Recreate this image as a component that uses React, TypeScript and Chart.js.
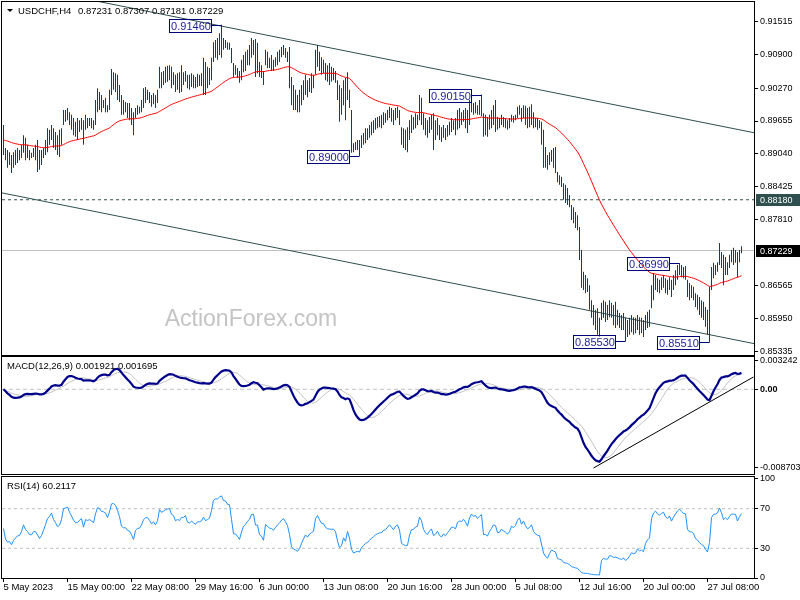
import React, { useEffect, useRef } from "react";
import { Chart, registerables } from "chart.js";

Chart.register(...registerables);
Chart.defaults.font.family = "'Liberation Sans', Arial, sans-serif";
Chart.defaults.font.size = 10;
Chart.defaults.color = "#000";

// ---- H4 bars (one per 4h), high / low ----
const highs: number[] = [
  0.8958, 0.8915, 0.8911, 0.8907, 0.8902, 0.8907, 0.8911, 0.8915, 0.8911, 0.8921,
  0.8939, 0.8934, 0.8921, 0.8911, 0.8906, 0.8915, 0.8921, 0.8930, 0.8911, 0.8911,
  0.8915, 0.8930, 0.8952, 0.8949, 0.8958, 0.8952, 0.8945, 0.8939, 0.8949, 0.8952,
  0.8986, 0.8986, 0.8990, 0.8982, 0.8977, 0.8971, 0.8964, 0.8971, 0.8967, 0.8971,
  0.8967, 0.8977, 0.8971, 0.8971, 0.8971, 0.8967, 0.9005, 0.9027, 0.9020, 0.9014,
  0.9005, 0.9009, 0.8995, 0.9024, 0.9063, 0.9057, 0.9055, 0.9052, 0.9033, 0.9014,
  0.9005, 0.9001, 0.8999, 0.8999, 0.8990, 0.8982, 0.8990, 0.8995, 0.8992, 0.9005,
  0.9027, 0.9029, 0.9024, 0.9020, 0.9014, 0.9018, 0.9014, 0.9024, 0.9067, 0.9057,
  0.9059, 0.9067, 0.9069, 0.9070, 0.9067, 0.9057, 0.9052, 0.9055, 0.9057, 0.9070,
  0.9057, 0.9059, 0.9052, 0.9052, 0.9055, 0.9052, 0.9048, 0.9054, 0.9052, 0.9055,
  0.9084, 0.9076, 0.9067, 0.9065, 0.9084, 0.9113, 0.9117, 0.9121, 0.9130, 0.9146,
  0.9121, 0.9117, 0.9113, 0.9112, 0.9102, 0.9074, 0.9070, 0.9065, 0.9059, 0.9080,
  0.9089, 0.9095, 0.9099, 0.9108, 0.9121, 0.9117, 0.9119, 0.9112, 0.9076, 0.9070,
  0.9059, 0.9099, 0.9095, 0.9084, 0.9089, 0.9080, 0.9085, 0.9095, 0.9099, 0.9104,
  0.9108, 0.9102, 0.9095, 0.9104, 0.9048, 0.9033, 0.9024, 0.9014, 0.9024, 0.9033,
  0.9042, 0.9052, 0.9042, 0.9046, 0.9055, 0.9052, 0.9099, 0.9108, 0.9095, 0.9085,
  0.9080, 0.9074, 0.9070, 0.9074, 0.9067, 0.9065, 0.9059, 0.9042, 0.9033, 0.9027,
  0.9042, 0.9046, 0.9057, 0.9024, 0.8986, 0.8924, 0.8926, 0.8930, 0.8930, 0.8939,
  0.8943, 0.8952, 0.8952, 0.8958, 0.8964, 0.8967, 0.8971, 0.8973, 0.8975, 0.8977,
  0.8982, 0.8980, 0.8986, 0.8992, 0.8990, 0.8986, 0.8990, 0.8992, 0.8986, 0.8954,
  0.8952, 0.8949, 0.8954, 0.8967, 0.8977, 0.8973, 0.8980, 0.8977, 0.9014, 0.9009,
  0.8980, 0.8971, 0.8967, 0.8973, 0.8977, 0.8980, 0.8967, 0.8971, 0.8958, 0.8954,
  0.8958, 0.8952, 0.8958, 0.8964, 0.8971, 0.8967, 0.8971, 0.8986, 0.8990, 0.8982,
  0.8986, 0.8990, 0.8986, 0.9005, 0.9001, 0.8999, 0.9001, 0.8995, 0.9005, 0.9015,
  0.8980, 0.8977, 0.8973, 0.8977, 0.8986, 0.8995, 0.9005, 0.8973, 0.8971, 0.8977,
  0.8973, 0.8971, 0.8967, 0.8971, 0.8977, 0.8975, 0.8977, 0.8992, 0.8995, 0.8990,
  0.8995, 0.8994, 0.8990, 0.8992, 0.8997, 0.8982, 0.8971, 0.8971, 0.8967, 0.8964,
  0.8949, 0.8917, 0.8902, 0.8907, 0.8911, 0.8915, 0.8917, 0.8870, 0.8864, 0.8861,
  0.8849, 0.8846, 0.8840, 0.8827, 0.8808, 0.8804, 0.8795, 0.8789, 0.8767, 0.8724,
  0.8683, 0.8677, 0.8671, 0.8658, 0.8630, 0.8621, 0.8612, 0.8615, 0.8597, 0.8625,
  0.8630, 0.8627, 0.8621, 0.8630, 0.8625, 0.8621, 0.8627, 0.8612, 0.8606, 0.8602,
  0.8606, 0.8597, 0.8593, 0.8597, 0.8602, 0.8598, 0.8597, 0.8602, 0.8598, 0.8597,
  0.8593, 0.8602, 0.8608, 0.8612, 0.8658, 0.8681, 0.8677, 0.8671, 0.8668, 0.8673,
  0.8677, 0.8671, 0.8668, 0.8673, 0.8668, 0.8677, 0.8686, 0.8696, 0.8699, 0.8696,
  0.8692, 0.8694, 0.8668, 0.8662, 0.8658, 0.8655, 0.8643, 0.8640, 0.8636, 0.8630,
  0.8627, 0.8617, 0.8612, 0.8655, 0.8692, 0.8700, 0.8696, 0.8701, 0.8737, 0.8720,
  0.8715, 0.8711, 0.8701, 0.8715, 0.8724, 0.8728, 0.8724, 0.8720, 0.8724, 0.8731,
];

const lows: number[] = [
  0.8902, 0.8892, 0.8878, 0.8883, 0.8868, 0.8878, 0.8883, 0.8887, 0.8892, 0.8896,
  0.8906, 0.8892, 0.8896, 0.8892, 0.8896, 0.8898, 0.8892, 0.8870, 0.8874, 0.8883,
  0.8896, 0.8902, 0.8907, 0.8921, 0.8930, 0.8915, 0.8911, 0.8902, 0.8898, 0.8921,
  0.8958, 0.8964, 0.8967, 0.8958, 0.8949, 0.8939, 0.8936, 0.8930, 0.8945, 0.8949,
  0.8921, 0.8949, 0.8952, 0.8956, 0.8952, 0.8949, 0.8958, 0.8982, 0.8986, 0.8982,
  0.8990, 0.8982, 0.8982, 0.8986, 0.9014, 0.9024, 0.9020, 0.9005, 0.9001, 0.8977,
  0.8977, 0.8982, 0.8971, 0.8967, 0.8958, 0.8939, 0.8971, 0.8977, 0.8980, 0.8982,
  0.8990, 0.8999, 0.9005, 0.8999, 0.8992, 0.8997, 0.8990, 0.8999, 0.9027, 0.9027,
  0.9033, 0.9037, 0.9039, 0.9042, 0.9027, 0.9033, 0.9020, 0.9024, 0.9018, 0.9020,
  0.9033, 0.9039, 0.9027, 0.9024, 0.9029, 0.9027, 0.9027, 0.9029, 0.9031, 0.9031,
  0.9014, 0.9014, 0.9027, 0.9033, 0.9042, 0.9076, 0.9084, 0.9080, 0.9089, 0.9084,
  0.9099, 0.9102, 0.9099, 0.9099, 0.9074, 0.9048, 0.9052, 0.9046, 0.9037, 0.9042,
  0.9057, 0.9059, 0.9070, 0.9070, 0.9084, 0.9089, 0.9048, 0.9055, 0.9048, 0.9046,
  0.9033, 0.9070, 0.9065, 0.9065, 0.9059, 0.9059, 0.9067, 0.9070, 0.9076, 0.9085,
  0.9089, 0.9084, 0.9076, 0.9027, 0.8995, 0.8986, 0.8986, 0.8982, 0.8982, 0.8995,
  0.9005, 0.9014, 0.9010, 0.9020, 0.9018, 0.9027, 0.9052, 0.9067, 0.9059, 0.9052,
  0.9055, 0.9042, 0.9039, 0.9033, 0.9039, 0.9042, 0.9037, 0.9005, 0.8964, 0.8977,
  0.8995, 0.8967, 0.9005, 0.8990, 0.8906, 0.8907, 0.8911, 0.8911, 0.8900, 0.8915,
  0.8921, 0.8924, 0.8930, 0.8934, 0.8939, 0.8943, 0.8949, 0.8952, 0.8954, 0.8952,
  0.8958, 0.8962, 0.8967, 0.8971, 0.8964, 0.8958, 0.8967, 0.8971, 0.8958, 0.8921,
  0.8915, 0.8911, 0.8907, 0.8930, 0.8943, 0.8949, 0.8952, 0.8958, 0.8967, 0.8958,
  0.8949, 0.8939, 0.8934, 0.8943, 0.8949, 0.8911, 0.8930, 0.8939, 0.8930, 0.8926,
  0.8934, 0.8930, 0.8936, 0.8939, 0.8945, 0.8949, 0.8939, 0.8949, 0.8952, 0.8958,
  0.8964, 0.8952, 0.8943, 0.8958, 0.8982, 0.8977, 0.8980, 0.8977, 0.8977, 0.8975,
  0.8936, 0.8939, 0.8936, 0.8949, 0.8952, 0.8958, 0.8945, 0.8949, 0.8952, 0.8958,
  0.8954, 0.8952, 0.8949, 0.8952, 0.8964, 0.8962, 0.8967, 0.8971, 0.8977, 0.8964,
  0.8971, 0.8958, 0.8952, 0.8954, 0.8958, 0.8952, 0.8954, 0.8949, 0.8952, 0.8921,
  0.8878, 0.8878, 0.8874, 0.8883, 0.8889, 0.8878, 0.8868, 0.8851, 0.8846, 0.8842,
  0.8818, 0.8812, 0.8808, 0.8804, 0.8780, 0.8774, 0.8765, 0.8761, 0.8705, 0.8653,
  0.8649, 0.8643, 0.8645, 0.8612, 0.8597, 0.8583, 0.8574, 0.8565, 0.8562, 0.8593,
  0.8597, 0.8589, 0.8593, 0.8598, 0.8597, 0.8583, 0.8578, 0.8583, 0.8578, 0.8574,
  0.8574, 0.8553, 0.8561, 0.8565, 0.8570, 0.8565, 0.8568, 0.8574, 0.8565, 0.8568,
  0.8561, 0.8574, 0.8578, 0.8580, 0.8615, 0.8630, 0.8649, 0.8645, 0.8643, 0.8649,
  0.8653, 0.8643, 0.8640, 0.8649, 0.8636, 0.8649, 0.8658, 0.8668, 0.8677, 0.8673,
  0.8671, 0.8668, 0.8636, 0.8630, 0.8634, 0.8630, 0.8617, 0.8612, 0.8602, 0.8597,
  0.8593, 0.8580, 0.8565, 0.8551, 0.8649, 0.8671, 0.8677, 0.8683, 0.8696, 0.8690,
  0.8658, 0.8677, 0.8677, 0.8690, 0.8701, 0.8696, 0.8700, 0.8673, 0.8701, 0.8718,
];

// ---- axes ----
const timeTickBars = [0, 32, 64, 96, 128, 160, 192, 224, 256, 288, 320, 352];
const timeLabels = [
  "5 May 2023", "15 May 00:00", "22 May 08:00", "29 May 16:00", "6 Jun 00:00", "13 Jun 08:00",
  "20 Jun 16:00", "28 Jun 00:00", "5 Jul 08:00", "12 Jul 16:00", "20 Jul 00:00", "27 Jul 08:00",
];
const priceTicks = [0.91515, 0.909, 0.9027, 0.89655, 0.8904, 0.88425, 0.8781, 0.86565, 0.8595, 0.85335];
const macdTicks = [0.003242, 0, -0.008703];
const rsiTicks = [100, 70, 30, 0];

// ---- marked swing points ----
const markLabels = ["0.91460", "0.89000", "0.90150", "0.85530", "0.86990", "0.85510"];
const markBars = [109, 178, 239, 311, 338, 353];
const markPrices = [0.9146, 0.89, 0.9015, 0.8553, 0.8699, 0.8551];

// ---- drawn lines / levels ----
const upperChannel = [{ x: 44, y: 0.9192 }, { x: 376, y: 0.8943 }];
const lowerChannel = [{ x: -1, y: 0.8831 }, { x: 376, y: 0.8548 }];
const macdTrend = [{ x: 295, y: -0.00874 }, { x: 375, y: 0.00137 }];
const supportLevel = 0.8818;
const lastPrice = 0.87229;

const titleSymbol = "USDCHF,H4";
const titleQuote = "0.87231 0.87307 0.87181 0.87229";
const macdTitle = "MACD(12,26,9) 0.001921 0.001695";
const rsiTitle = "RSI(14) 60.2117";

// ---- view ----
const X_MIN = -0.75;
const X_MAX = 375.25;
const PRICE_MAX = 0.918839;
const PRICE_MIN = 0.852722;
const MACD_MAX = 0.003586;
const MACD_MIN = -0.009403;
const RSI_MAX = 102;
const RSI_MIN = 0;
const FONT = "'Liberation Sans', Arial, sans-serif";

// ---- indicators computed from the bars ----
const medians = highs.map((h, i) => (h + lows[i]) / 2);
function ema(src: number[], n: number): number[] {
  const k = 2 / (n + 1);
  const out: number[] = [];
  let e = src[0];
  src.forEach((v, i) => {
    e = i === 0 ? v : e + k * (v - e);
    out.push(e);
  });
  return out;
}
function sma(src: number[], n: number): number[] {
  return src.map((_, i) => {
    const s = src.slice(Math.max(0, i - n + 1), i + 1);
    return s.reduce((a, b) => a + b, 0) / s.length;
  });
}
function rsiOf(src: number[], n: number): number[] {
  const ch = src.slice(1).map((v, i) => v - src[i]);
  const seed = ch.slice(0, n).reduce((a, b) => a + Math.abs(b), 0) / n / 2;
  let ag = seed;
  let al = seed;
  const out = [50];
  ch.forEach((c) => {
    ag = (ag * (n - 1) + Math.max(c, 0)) / n;
    al = (al * (n - 1) + Math.max(-c, 0)) / n;
    out.push(100 - 100 / (1 + ag / al));
  });
  return out;
}
const ma55 = ema(medians, 55);
const ema12 = ema(medians, 12);
const ema26 = ema(medians, 26);
const macdMain = ema12.map((v, i) => v - ema26[i]);
const macdSignal = sma(macdMain, 9);
const rsi14 = rsiOf(medians, 14);

const toXY = (arr: number[]) => arr.map((v, i) => ({ x: i, y: v }));
const hLine = (v: number) => [{ x: X_MIN, y: v }, { x: X_MAX, y: v }];

const fixRightAxis = (s: any) => {
  s.width = 46;
  s.paddingTop = 0;
  s.paddingBottom = 0;
};

const framePlugin = {
  id: "frame",
  afterDraw(chart: any) {
    const { ctx, chartArea: a } = chart;
    ctx.save();
    ctx.strokeStyle = "#000";
    ctx.lineWidth = 1;
    ctx.strokeRect(a.left - 0.5, a.top - 0.5, a.right - a.left + 1, a.bottom - a.top + 1);
    ctx.restore();
  },
};

const hiddenX = { type: "linear", min: X_MIN, max: X_MAX, offset: false, display: false };

const yAxis = (min: number, max: number, values: number[], fmt: (v: number) => string, bold?: number) => ({
  type: "linear",
  position: "right",
  min,
  max,
  afterBuildTicks: (s: any) => {
    s.ticks = values.map((v) => ({ value: v }));
  },
  afterFit: fixRightAxis,
  ticks: {
    autoSkip: false,
    padding: 2,
    color: "#000",
    font: (c: any) => ({ family: FONT, size: 9, weight: bold !== undefined && c.tick && c.tick.value === bold ? "bold" : "normal" }),
    callback: (v: any) => fmt(Number(v)),
  },
  grid: { drawOnChartArea: false, drawTicks: true, tickLength: 4, color: "#000" },
  border: { display: false },
});

const mainOverlay = {
  id: "mainOverlay",
  beforeDatasetsDraw(chart: any) {
    const { ctx } = chart;
    ctx.save();
    ctx.font = `23px ${FONT}`;
    ctx.fillStyle = "#c4c4c4";
    ctx.textAlign = "center";
    ctx.textBaseline = "middle";
    ctx.fillText("ActionForex.com", 251, 320);
    ctx.restore();
  },
  afterDatasetsDraw(chart: any) {
    const { ctx, scales } = chart;
    const x = scales.x;
    const y = scales.y;
    ctx.save();
    ctx.font = `11px ${FONT}`;
    ctx.lineWidth = 1;
    markLabels.forEach((label, k) => {
      const ax = Math.floor(x.getPixelForValue(markBars[k]));
      const ay = Math.round(y.getPixelForValue(markPrices[k]));
      const w = 42;
      const h = 13;
      const right = ax - 10;
      const left = right - w;
      const top = ay - 6;
      ctx.strokeStyle = "#00007f";
      ctx.strokeRect(left + 0.5, top + 0.5, w, h);
      ctx.beginPath();
      ctx.moveTo(right + 0.5, ay + 0.5);
      ctx.lineTo(ax + 0.5, ay + 0.5);
      ctx.stroke();
      ctx.fillStyle = "#1c1c9c";
      ctx.textAlign = "center";
      ctx.textBaseline = "middle";
      ctx.fillText(label, left + w / 2 + 1, top + h / 2 + 1);
    });
    ctx.restore();
  },
  afterDraw(chart: any) {
    const { ctx, scales } = chart;
    const y = scales.y;
    ctx.save();
    // title
    ctx.fillStyle = "#000";
    ctx.beginPath();
    ctx.moveTo(7, 9);
    ctx.lineTo(13, 9);
    ctx.lineTo(10, 12);
    ctx.closePath();
    ctx.fill();
    ctx.font = `9.5px ${FONT}`;
    ctx.textBaseline = "middle";
    ctx.textAlign = "left";
    ctx.fillText(titleSymbol, 18, 11);
    ctx.fillText(titleQuote, 78, 11);
    // level boxes on the price axis
    ctx.font = `9px ${FONT}`;
    const boxes: [number, string, string][] = [
      [supportLevel, "#2f4f4f", supportLevel.toFixed(5)],
      [lastPrice, "#000000", lastPrice.toFixed(5)],
    ];
    boxes.forEach(([v, fill, txt]) => {
      const py = Math.round(y.getPixelForValue(v));
      ctx.fillStyle = fill;
      ctx.fillRect(756, py - 6, 44, 12);
      ctx.fillStyle = "#fff";
      ctx.fillText(txt, 760, py + 0.5);
    });
    ctx.restore();
  },
};

const textPlugin = (id: string, text: string, ty: number) => ({
  id,
  afterDraw(chart: any) {
    const { ctx } = chart;
    ctx.save();
    ctx.font = `9.5px ${FONT}`;
    ctx.fillStyle = "#000";
    ctx.textAlign = "left";
    ctx.textBaseline = "middle";
    ctx.fillText(text, 7, ty);
    ctx.restore();
  },
});

const baseOptions = {
  responsive: false,
  animation: false,
  devicePixelRatio: 1,
  events: [],
  plugins: { legend: { display: false }, tooltip: { enabled: false } },
};

function useChart(build: () => any) {
  const ref = useRef<HTMLCanvasElement>(null);
  useEffect(() => {
    const chart = new Chart(ref.current as HTMLCanvasElement, build());
    return () => chart.destroy();
  }, []);
  return ref;
}

const canvasStyle: React.CSSProperties = { position: "absolute", left: 0, top: 0, width: 800, height: 600 };

function MainPanel() {
  const ref = useChart(() => ({
    type: "bar",
    data: {
      datasets: [
        {
          type: "line",
          data: toXY(ma55),
          borderColor: "#ff0000",
          borderWidth: 1,
          pointRadius: 0,
          order: 1,
        },
        {
          type: "bar",
          data: highs.map((h, i) => ({ x: i, y: [lows[i], h] })),
          backgroundColor: "#173d5b",
          barThickness: 1,
          borderWidth: 0,
          inflateAmount: 0,
          order: 2,
        },
        { type: "line", data: upperChannel, borderColor: "#2f4f4f", borderWidth: 1, pointRadius: 0, order: 3 },
        { type: "line", data: lowerChannel, borderColor: "#2f4f4f", borderWidth: 1, pointRadius: 0, order: 3 },
        {
          type: "line",
          data: hLine(supportLevel),
          borderColor: "#2f4f4f",
          borderWidth: 1,
          borderDash: [3, 3],
          pointRadius: 0,
          order: 4,
        },
        { type: "line", data: hLine(lastPrice), borderColor: "#c0c0c0", borderWidth: 1, pointRadius: 0, order: 5 },
      ],
    },
    options: {
      ...baseOptions,
      layout: { padding: { top: 2, bottom: 245, left: 2, right: 0 } },
      scales: {
        x: hiddenX,
        y: yAxis(PRICE_MIN, PRICE_MAX, priceTicks, (v) => v.toFixed(5)),
      },
    },
    plugins: [mainOverlay, framePlugin],
  }));
  return <canvas ref={ref} width={800} height={600} style={canvasStyle} />;
}

function MacdPanel() {
  const ref = useChart(() => ({
    type: "line",
    data: {
      datasets: [
        { data: macdTrend, borderColor: "#000", borderWidth: 1, pointRadius: 0, order: 0 },
        { data: toXY(macdMain), borderColor: "#00008b", borderWidth: 2.2, pointRadius: 0, order: 1 },
        { data: toXY(macdSignal), borderColor: "#c0c0c0", borderWidth: 1, pointRadius: 0, order: 2 },
        { data: hLine(0), borderColor: "#c0c0c0", borderWidth: 1, borderDash: [4, 3], pointRadius: 0, order: 3 },
      ],
    },
    options: {
      ...baseOptions,
      layout: { padding: { top: 357, bottom: 126, left: 2, right: 0 } },
      scales: {
        x: hiddenX,
        y: yAxis(MACD_MIN, MACD_MAX, macdTicks, (v) => (v === 0 ? "0.00" : v.toFixed(6)), 0),
      },
    },
    plugins: [textPlugin("macdTitle", macdTitle, 366), framePlugin],
  }));
  return <canvas ref={ref} width={800} height={600} style={canvasStyle} />;
}

function RsiPanel() {
  const ref = useChart(() => ({
    type: "line",
    data: {
      datasets: [
        { data: toXY(rsi14), borderColor: "#1e90ff", borderWidth: 1, pointRadius: 0, order: 0 },
        { data: hLine(70), borderColor: "#c0c0c0", borderWidth: 1, borderDash: [3, 3], pointRadius: 0, order: 1 },
        { data: hLine(30), borderColor: "#c0c0c0", borderWidth: 1, borderDash: [3, 3], pointRadius: 0, order: 1 },
      ],
    },
    options: {
      ...baseOptions,
      layout: { padding: { top: 477, bottom: 0, left: 2, right: 0 } },
      scales: {
        x: {
          type: "linear",
          min: X_MIN,
          max: X_MAX,
          offset: false,
          position: "bottom",
          afterBuildTicks: (s: any) => {
            s.ticks = timeTickBars.map((v) => ({ value: v }));
          },
          afterFit: (s: any) => {
            s.height = 22;
            s.paddingLeft = 0;
            s.paddingRight = 0;
          },
          ticks: {
            autoSkip: false,
            maxRotation: 0,
            minRotation: 0,
            align: "start",
            padding: 0,
            color: "#000",
            font: { family: FONT, size: 9.5 },
            callback: (v: any) => {
              const k = timeTickBars.indexOf(Number(v));
              return k >= 0 ? timeLabels[k] : "";
            },
          },
          grid: { drawOnChartArea: false, drawTicks: true, tickLength: 4, color: "#000" },
          border: { display: false },
        },
        y: yAxis(RSI_MIN, RSI_MAX, rsiTicks, (v) => String(v)),
      },
    },
    plugins: [textPlugin("rsiTitle", rsiTitle, 486), framePlugin],
  }));
  return <canvas ref={ref} width={800} height={600} style={canvasStyle} />;
}

export default function App() {
  return (
    <div style={{ position: "absolute", left: 0, top: 0, width: 800, height: 600, background: "#fff", overflow: "hidden" }}>
      <MainPanel />
      <MacdPanel />
      <RsiPanel />
    </div>
  );
}
